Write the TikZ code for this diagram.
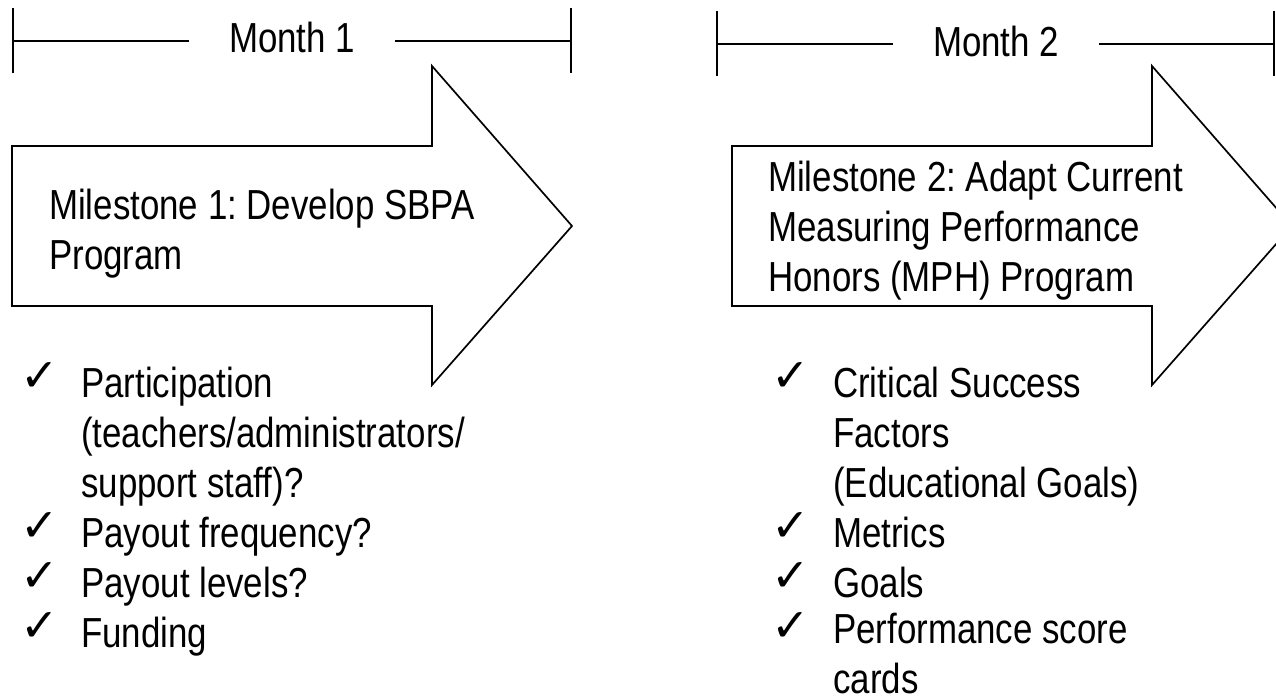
\documentclass[tikz,border=0pt]{standalone}
\usepackage{fontspec}
\setmainfont{Liberation Sans}[FakeStretch=0.83]
\newfontfamily\checkfont{DejaVu Sans}
\usetikzlibrary{arrows.meta}
\frenchspacing

\begin{document}
\begin{tikzpicture}[x=1pt, y=-1pt,
  spanline/.style={line width=1.8pt, {Bar[width=65pt]}-},
  bigarrow/.style={line width=1.7pt, line join=miter},
  monthlabel/.style={font=\fontsize{42}{50}\selectfont, inner ysep=0pt, inner xsep=40pt, anchor=base},
  mtext/.style={font=\fontsize{42}{50}\selectfont, inner sep=0pt, align=left, anchor=base west},
  tick/.style={font=\checkfont\fontsize{46}{46}\selectfont, inner sep=0pt, anchor=base west}
]
\clip (0,0) rectangle (1276,700);

% month spans
\node[monthlabel] (month1) at (292,53) {Month 1};
\coordinate (m1a) at (12,41);
\coordinate (m1b) at (572,41);
\draw[spanline] (m1a) -- (m1a -| month1.west);
\draw[spanline] (m1b) -- (m1b -| month1.east);

\node[monthlabel] (month2) at (996,57) {Month 2};
\coordinate (m2a) at (716,44);
\coordinate (m2b) at (1275,44);
\draw[spanline] (m2a) -- (m2a -| month2.west);
\draw[spanline] (m2b) -- (m2b -| month2.east);

% milestone arrows
\draw[bigarrow] (12,146) -- (432,146) -- (432,66) -- (572,226)
  -- (432,385) -- (432,306) -- (12,306) -- cycle;
\draw[bigarrow] (732,146) -- (1152,146) -- (1152,66) -- (1292,226)
  -- (1152,385) -- (1152,306) -- (732,306) -- cycle;

% base anchor sits on the last line
\node[mtext] (ms1) at (49,270) {Milestone 1: Develop SBPA\\Program};
\node[mtext] (ms2) at (768,292) {Milestone 2: Adapt Current\\Measuring Performance\\Honors (MPH) Program};

% month 1 checklist
\node[tick] (t1) at (20,391) {✓};
\node[tick] (t2) at (20,541) {✓};
\node[tick] (t3) at (20,591) {✓};
\node[tick] (t4) at (20,641) {✓};
\node[mtext] (l1) at (81,497) {Participation\\(teachers/administrators/\\support staff)?};
\node[mtext] (l2) at (81,547) {Payout frequency?};
\node[mtext] (l3) at (81,597) {Payout levels?};
\node[mtext] (l4) at (81,647) {Funding};

% month 2 checklist
\node[tick] (u1) at (771,391) {✓};
\node[tick] (u2) at (771,541) {✓};
\node[tick] (u3) at (771,591) {✓};
\node[tick] (u4) at (771,641) {✓};
\node[mtext] (r1) at (833,497) {Critical Success\\Factors\\(Educational Goals)};
\node[mtext] (r2) at (833,547) {Metrics};
\node[mtext] (r3) at (833,597) {Goals};
\node[mtext] (r4) at (833,693) {Performance score\\cards};
\end{tikzpicture}
\end{document}
